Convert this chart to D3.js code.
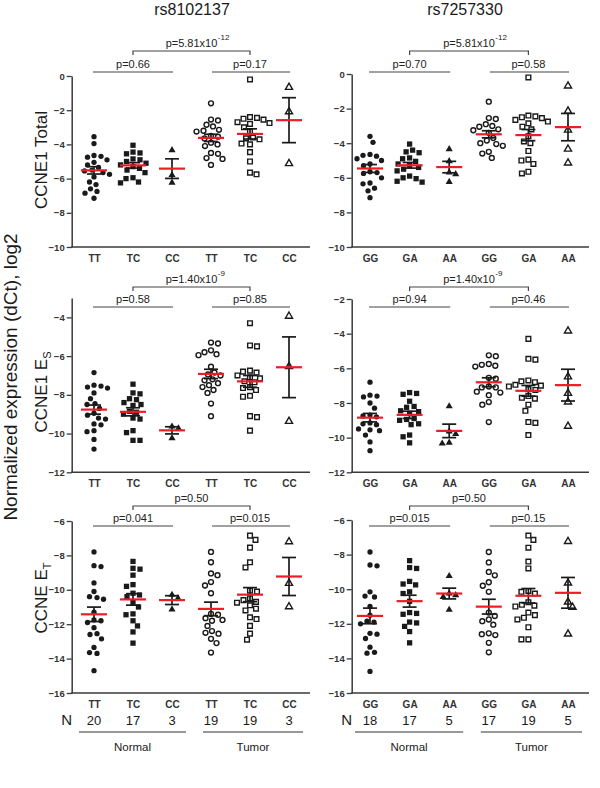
<!DOCTYPE html>
<html><head><meta charset="utf-8">
<script src="https://cdn.jsdelivr.net/npm/d3@7"></script>
<style>
body{margin:0;background:#fff;}
svg{display:block;font-family:"Liberation Sans",Arial,sans-serif;}
</style></head><body>
<svg id="chart" width="600" height="788"></svg>
<script>
// ---------------- data ----------------
const genotypesA = ["TT","TC","CC"];
const genotypesB = ["GG","GA","AA"];
const tissues = ["Normal","Tumor"];
const snpTitles = ["rs8102137","rs7257330"];
const nA = [20,17,3,19,19,3];
const nB = [18,17,5,17,19,5];
const measureLabels = [["CCNE1 Total",""],["CCNE1 E","S"],["CCNE E","T"]];
const yAxisTitle = "Normalized expression (dCt), log2";
const yTicksTotal = [0,-2,-4,-6,-8,-10];
const yTicksEsA = [-4,-6,-8,-10,-12];
const yTicksEsB = [-2,-4,-6,-8,-10,-12];
const yTicksEt = [-6,-8,-10,-12,-14,-16];

// groups: Normal x3 genotypes, Tumor x3 genotypes
const total_rs8102137 = [
  [-3.55,-3.95,-4.65,-4.7,-4.75,-4.9,-5.05,-5.2,-5.35,-5.5,-5.55,-5.65,-5.75,-5.9,-6.2,-6.35,-6.6,-6.75,-6.85,-7.15],
  [-4.05,-4.45,-4.5,-4.55,-4.85,-4.9,-5.0,-5.1,-5.2,-5.3,-5.4,-5.5,-5.65,-5.95,-6.0,-6.2,-6.25],
  [-4.3,-5.75,-6.2],
  [-1.6,-2.55,-2.6,-2.85,-2.95,-3.15,-3.2,-3.25,-3.5,-3.55,-3.65,-3.9,-4.0,-4.1,-4.5,-4.55,-4.8,-4.85,-5.2],
  [-0.2,-2.4,-2.45,-2.5,-2.55,-2.7,-2.75,-2.8,-3.0,-3.25,-3.6,-3.65,-3.7,-3.95,-4.0,-4.45,-5.0,-5.65,-5.75],
  [-0.62,-2.05,-5.08]
];
const total_rs7257330 = [
  [-3.6,-3.95,-4.65,-4.7,-4.75,-4.9,-5.0,-5.2,-5.3,-5.65,-5.7,-5.75,-6.0,-6.3,-6.35,-6.6,-6.75,-7.15],
  [-4.05,-4.4,-4.5,-4.55,-4.85,-4.9,-5.05,-5.2,-5.3,-5.4,-5.5,-5.6,-5.9,-6.0,-6.05,-6.2,-6.25],
  [-4.3,-5.0,-5.65,-5.75,-6.2],
  [-1.6,-2.55,-2.6,-2.9,-3.0,-3.05,-3.2,-3.25,-3.4,-3.7,-3.85,-4.0,-4.05,-4.15,-4.5,-4.6,-4.85],
  [-0.2,-2.4,-2.45,-2.5,-2.55,-2.65,-2.75,-2.85,-3.05,-3.2,-3.6,-3.9,-4.0,-4.45,-4.95,-5.0,-5.2,-5.65,-5.75],
  [-0.65,-2.1,-3.2,-4.3,-5.1]
];
const es_rs8102137 = [
  [-6.85,-7.5,-7.55,-7.6,-7.65,-7.9,-8.2,-8.45,-8.5,-8.7,-8.95,-9.05,-9.2,-9.25,-9.5,-9.55,-9.85,-9.9,-10.3,-10.8],
  [-7.45,-7.9,-7.95,-8.2,-8.25,-8.4,-8.5,-8.55,-8.85,-8.9,-9.0,-9.2,-9.25,-9.85,-9.95,-10.35,-10.35],
  [-9.6,-9.7,-10.2],
  [-5.3,-5.35,-5.7,-5.8,-5.9,-5.95,-6.55,-6.85,-6.95,-7.0,-7.2,-7.25,-7.4,-7.5,-7.6,-7.75,-7.9,-8.45,-9.1],
  [-4.3,-5.45,-5.5,-6.75,-6.8,-6.85,-7.0,-7.1,-7.15,-7.3,-7.35,-7.6,-7.65,-7.75,-8.05,-8.1,-9.1,-9.15,-9.85],
  [-3.9,-6.5,-9.33]
];
const es_rs7257330 = [
  [-6.8,-7.55,-7.6,-7.65,-8.0,-8.3,-8.7,-8.75,-8.8,-9.15,-9.2,-9.25,-9.5,-9.55,-9.6,-9.85,-10.25,-10.75],
  [-7.4,-7.45,-7.5,-7.9,-8.2,-8.25,-8.45,-8.5,-8.6,-8.9,-8.95,-9.0,-9.2,-9.25,-9.85,-9.95,-10.3],
  [-8.15,-9.6,-9.75,-10.25,-10.3],
  [-5.25,-5.3,-5.75,-5.8,-5.85,-5.9,-6.55,-6.6,-7.05,-7.1,-7.1,-7.35,-7.4,-7.55,-7.95,-8.1,-9.1],
  [-4.3,-5.45,-5.5,-6.7,-6.75,-6.8,-6.95,-7.0,-7.05,-7.2,-7.25,-7.6,-7.7,-7.75,-8.1,-8.45,-9.1,-9.15,-9.85],
  [-3.8,-6.45,-7.4,-7.9,-9.3]
];
const et_rs8102137 = [
  [-7.8,-8.6,-8.65,-9.6,-10.1,-10.4,-10.45,-10.55,-11.3,-11.75,-11.8,-11.9,-12.2,-12.55,-12.6,-12.85,-13.35,-13.65,-13.7,-14.7],
  [-8.35,-8.75,-8.8,-9.15,-9.7,-9.8,-10.2,-10.3,-10.4,-10.75,-11.0,-11.4,-11.45,-11.8,-12.1,-12.45,-13.1],
  [-10.25,-10.45,-11.1],
  [-7.8,-8.4,-9.05,-9.15,-9.55,-9.75,-10.2,-11.4,-11.45,-11.65,-11.75,-11.8,-12.1,-12.4,-12.5,-12.55,-12.85,-13.1,-13.65],
  [-6.85,-7.1,-7.55,-8.4,-8.7,-10.05,-10.1,-10.5,-10.6,-10.7,-10.75,-10.9,-11.1,-11.2,-11.6,-11.7,-12.1,-12.55,-12.9],
  [-7.16,-9.58,-10.94]
];
const et_rs7257330 = [
  [-7.85,-8.6,-8.65,-10.15,-10.4,-10.45,-11.0,-11.5,-11.85,-11.9,-12.0,-12.55,-12.6,-12.85,-13.35,-13.65,-13.7,-14.75],
  [-8.35,-8.75,-8.8,-9.55,-9.7,-9.75,-10.15,-10.25,-10.7,-11.35,-11.4,-11.45,-11.9,-11.95,-12.15,-12.45,-13.1],
  [-9.2,-10.2,-10.3,-10.4,-11.15],
  [-7.85,-8.45,-9.0,-9.2,-9.6,-9.8,-10.15,-11.35,-11.55,-11.75,-11.85,-12.05,-12.55,-12.6,-12.65,-13.1,-13.65],
  [-6.9,-7.15,-7.6,-8.4,-8.8,-10.1,-10.15,-10.25,-10.75,-10.9,-11.0,-10.95,-11.35,-11.5,-11.65,-11.75,-12.2,-12.9,-12.9],
  [-7.2,-9.6,-10.7,-11.0,-12.55]
];

// p-values: [Normal-vs, Tumor-vs, Normal-Tumor (mantissa, exponent)]
const pNormal = [["0.66","0.70"],["0.58","0.94"],["0.041","0.015"]];
const pTumor  = [["0.17","0.58"],["0.85","0.46"],["0.015","0.15"]];
const pTissue = [[["5.81","-12"],["5.81","-12"]],[["1.40","-9"],["1.40","-9"]],[["0.50",""],["0.50",""]]];

// ---------------- layout ----------------
const svg = d3.select("#chart");
const INK = "#1a1a1a", AXIS = "#3a3a3a", RED = "#ee1c25";

const cols = [
  {x0:71.7, x1:310, c0:94, c1:289, geno:genotypesA, n:nA, titleX:192},
  {x0:351.7, x1:589, c0:370, c1:568, geno:genotypesB, n:nB, titleX:465}
];
const rows = [
  {domains:[[-10,0],[-10,0]], ticks:[yTicksTotal,yTicksTotal], bottom:247, tops:[76,74], big:51, small:72, labelY:160,
   data:[total_rs8102137,total_rs7257330]},
  {domains:[[-12,-3],[-12,-2]], ticks:[yTicksEsA,yTicksEsB], bottom:472.3, tops:[298,299], big:287, small:307, labelY:392,
   data:[es_rs8102137,es_rs7257330]},
  {domains:[[-16,-6],[-16,-6]], ticks:[yTicksEt,yTicksEt], bottom:693, tops:[521,520], big:506, small:526, labelY:598,
   data:[et_rs8102137,et_rs7257330]}
];

// titles
cols.forEach((c,ci)=>{
  svg.append("text").attr("x",c.titleX).attr("y",15).attr("text-anchor","middle")
    .attr("font-size",16).attr("fill",INK).text(snpTitles[ci]);
});

// main y title
svg.append("text").attr("transform","translate(17,377) rotate(-90)").attr("text-anchor","middle")
  .attr("font-size",19).attr("fill",INK).text(yAxisTitle);

function swarm(vals, y, diam){
  const pts = vals.map(v=>({v, y:y(v), dx:0})).sort((a,b)=>a.y-b.y);
  const placed=[]; let flip=1;
  for(const p of pts){
    for(let s=0; s<80; s+=0.5){
      const cands = s===0?[0]:[s*flip,-s*flip];
      let ok=null;
      for(const c of cands){
        if(placed.every(q => (q.dx-c)**2 + (q.y-p.y)**2 >= diam*diam)){ ok=c; break; }
      }
      if(ok!==null){ p.dx=ok; if(ok!==0) flip=-flip; break; }
    }
    placed.push(p);
  }
  return pts;
}

const symTypes = [d3.symbolCircle, d3.symbolSquare, d3.symbolTriangle];
const symSizeFilled = [22, 28, 22];
const symSizeOpen = [19, 22, 22];

rows.forEach((r,ri)=>{
  // panel label
  const lab = svg.append("text").attr("transform",`translate(47,${r.labelY}) rotate(-90)`)
    .attr("text-anchor","middle").attr("font-size",17).attr("fill",INK);
  lab.append("tspan").text(measureLabels[ri][0]);
  if(measureLabels[ri][1]) lab.append("tspan").attr("font-size",11).attr("dy",4).text(measureLabels[ri][1]);

  cols.forEach((c,ci)=>{
    const g = svg.append("g");
    const y = d3.scaleLinear().domain(r.domains[ci]).range([r.bottom, r.tops[ci]]);
    const x = d3.scalePoint().domain(d3.range(6)).range([c.c0, c.c1]);

    // y axis
    const ya = g.append("g").attr("transform",`translate(${c.x0},0)`)
      .call(d3.axisLeft(y).tickValues(r.ticks[ci]).tickSize(5).tickSizeOuter(0).tickPadding(2));
    ya.select(".domain").attr("stroke",AXIS).attr("stroke-width",1.5);
    ya.selectAll(".tick line").attr("stroke",AXIS).attr("stroke-width",1.3);
    ya.selectAll("text").attr("font-size",9.5).attr("font-weight","bold").attr("fill","#333")
      .attr("font-family","Liberation Sans, Arial, sans-serif");

    // x axis
    g.append("line").attr("x1",c.x0-0.75).attr("x2",c.x1).attr("y1",r.bottom).attr("y2",r.bottom)
      .attr("stroke",AXIS).attr("stroke-width",1.5);
    const xa = g.append("g").attr("transform",`translate(0,${r.bottom})`)
      .call(d3.axisBottom(x).tickSize(0).tickPadding(8).tickFormat(i=>c.geno[i%3]));
    xa.select(".domain").remove();
    xa.selectAll("text").attr("font-size",10).attr("font-weight","bold").attr("fill","#333")
      .attr("font-family","Liberation Sans, Arial, sans-serif");

    // points
    r.data[ci].forEach((vals,gi)=>{
      const cx = x(gi);
      const pts = swarm(vals, y, 6.6);
      const open = gi>=3, si = gi%3;
      const sym = d3.symbol().type(symTypes[si]).size(open?symSizeOpen[si]:symSizeFilled[si]);
      g.selectAll(null).data(pts).join("path")
        .attr("d",sym)
        .attr("transform",d=>`translate(${cx+d.dx},${d.y + (si===2?0.7:0)})`)
        .attr("fill",open?"#fff":INK)
        .attr("stroke",open?INK:"none")
        .attr("stroke-width",open?1.4:0);
    });
    // error bars and means
    r.data[ci].forEach((vals,gi)=>{
      const cx = x(gi);
      const m = d3.mean(vals), se = d3.deviation(vals)/Math.sqrt(vals.length);
      const eb = g.append("g").attr("stroke",INK).attr("stroke-width",1.7);
      eb.append("line").attr("x1",cx).attr("x2",cx).attr("y1",y(m+se)).attr("y2",y(m-se));
      eb.append("line").attr("x1",cx-7).attr("x2",cx+7).attr("y1",y(m+se)).attr("y2",y(m+se));
      eb.append("line").attr("x1",cx-7).attr("x2",cx+7).attr("y1",y(m-se)).attr("y2",y(m-se));
      g.append("line").attr("x1",cx-13).attr("x2",cx+13).attr("y1",y(m)).attr("y2",y(m))
        .attr("stroke",RED).attr("stroke-width",2.2);
    });

    // brackets
    const br = g.append("g").attr("stroke","#444").attr("stroke-width",1.2).attr("fill","none");
    br.append("line").attr("x1",x(0)-1).attr("x2",x(2)+1).attr("y1",r.small).attr("y2",r.small);
    br.append("line").attr("x1",x(3)+1).attr("x2",x(5)+1).attr("y1",r.small).attr("y2",r.small);
    br.append("path").attr("d",`M${x(1)},${r.big+4}V${r.big}H${x(4)}V${r.big+4}`);
    const ptxt = (xx,yy,s)=>g.append("text").attr("x",xx).attr("y",yy).attr("text-anchor","middle")
      .attr("font-size",11).attr("fill","#222").text(s);
    ptxt((x(0)+x(2))/2, r.small-4, "p="+pNormal[ri][ci]);
    ptxt((x(3)+x(5))/2, r.small-4, "p="+pTumor[ri][ci]);
    const pt = pTissue[ri][ci];
    const mainT = ptxt((x(1)+x(4))/2, r.big-4, "p="+pt[0]+(pt[1]?"x10":""));
    if(pt[1]){
      const bb = mainT.node().getBBox();
      g.append("text").attr("x",bb.x+bb.width+0.5).attr("y",r.big-11.5).attr("font-size",8)
        .attr("fill","#222").text(pt[1]);
    }

    // N row and tissue groups (bottom only)
    if(ri===2){
      const nb = g.append("g");
      nb.append("text").attr("x",c.x0-5).attr("y",725).attr("text-anchor","middle")
        .attr("font-size",15).attr("fill",INK).text("N");
      c.n.forEach((nv,i)=>{
        nb.append("text").attr("x",x(i)).attr("y",725).attr("text-anchor","middle")
          .attr("font-size",13).attr("fill",INK).text(nv);
      });
      const spans = [[x(0)-15,x(2)+14],[x(3)-8,x(5)+14]];
      spans.forEach((s,ti)=>{
        nb.append("line").attr("x1",s[0]).attr("x2",s[1]).attr("y1",732).attr("y2",732)
          .attr("stroke","#333").attr("stroke-width",1.2);
        nb.append("text").attr("x",(s[0]+s[1])/2).attr("y",751).attr("text-anchor","middle")
          .attr("font-size",11.5).attr("fill",INK).text(tissues[ti]);
      });
    }
  });
});
</script>
</body></html>
